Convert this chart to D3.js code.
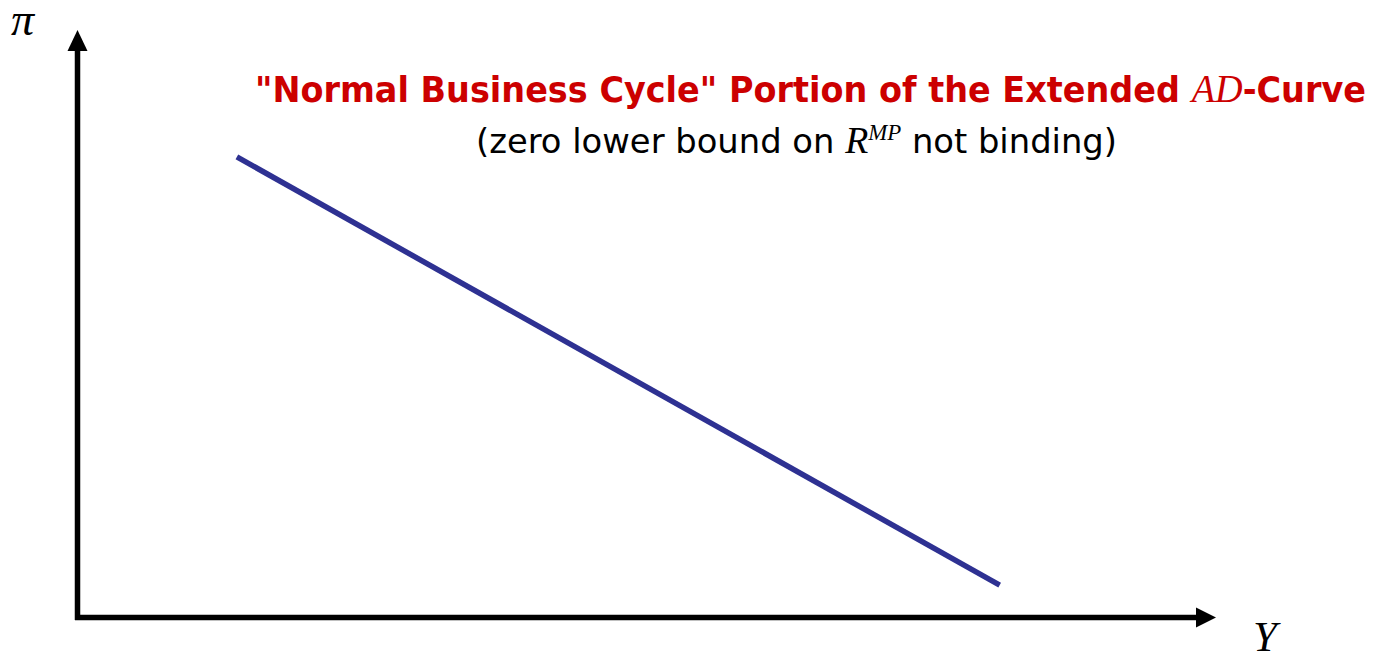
<!DOCTYPE html>
<html><head><meta charset="utf-8">
<script src="https://cdn.jsdelivr.net/npm/d3@7"></script>
<style>html,body{margin:0;padding:0;background:#fff;}svg{display:block;}</style>
</head><body>
<svg id="c" width="1376" height="659"></svg>
<script>
// Data (abstract units on 0-100 axes)
const curveY = [14, 81];      // output Y
const curvePi = [78.4, 5.5];  // inflation pi
const titleParts = ['"Normal Business Cycle" Portion of the Extended ', 'AD', '-Curve'];
const subtitleParts = ['(zero lower bound on ', 'R', 'MP', ' not binding)'];

const svg = d3.select('#c');
const x = d3.scaleLinear().domain([0, 100]).range([77.5, 1216]);
const y = d3.scaleLinear().domain([0, 100]).range([617.5, 30]);

// axes with arrowheads
const ax = svg.append('g');
ax.append('line').attr('x1', x(0)).attr('y1', y(0)+2.5).attr('x2', x(0)).attr('y2', y(100)+18)
  .attr('stroke', '#000').attr('stroke-width', 5.5);
ax.append('line').attr('x1', x(0)-2.5).attr('y1', y(0)).attr('x2', x(100)-18).attr('y2', y(0))
  .attr('stroke', '#000').attr('stroke-width', 5.5);
ax.append('path').attr('d', `M${x(0)},${y(100)} L${x(0)-10},${y(100)+21} L${x(0)+10},${y(100)+21} Z`).attr('fill', '#000');
ax.append('path').attr('d', `M${x(100)},${y(0)} L${x(100)-20},${y(0)-10} L${x(100)-20},${y(0)+10} Z`).attr('fill', '#000');

// axis labels
svg.append('text').attr('x', 11).attr('y', 35).attr('font-family', 'Liberation Serif').attr('font-style', 'italic')
  .attr('font-size', 46).text('π');
svg.append('text').attr('x', 1253).attr('y', 651).attr('font-family', 'Liberation Serif').attr('font-style', 'italic')
  .attr('font-size', 43).text('Y');

// AD curve
const pts = curveY.map((v, i) => [x(v), y(curvePi[i])]);
svg.append('path').attr('d', d3.line()(pts)).attr('fill', 'none').attr('stroke', '#2E3192').attr('stroke-width', 5.5);

// title
const t = svg.append('text').attr('y', 102).attr('fill', '#CC0000').attr('font-size', 35);
t.append('tspan').attr('font-family', 'DejaVu Sans').attr('font-weight', 'bold').text(titleParts[0]);
t.append('tspan').attr('font-family', 'Liberation Serif').attr('font-style', 'italic').attr('font-size', 40).text(titleParts[1]);
t.append('tspan').attr('font-family', 'DejaVu Sans').attr('font-weight', 'bold').text(titleParts[2]);
t.attr('x', 255).attr('textLength', 1366 - 255).attr('lengthAdjust', 'spacingAndGlyphs');

const s = svg.append('text').attr('y', 153).attr('fill', '#000').attr('font-size', 34).attr('font-family', 'DejaVu Sans');
s.append('tspan').text(subtitleParts[0]);
s.append('tspan').attr('font-family', 'Liberation Serif').attr('font-style', 'italic').attr('font-size', 38).text(subtitleParts[1]);
s.append('tspan').attr('font-family', 'Liberation Serif').attr('font-style', 'italic').attr('font-size', 23).attr('dy', -13).text(subtitleParts[2]);
s.append('tspan').attr('dy', 13).text(subtitleParts[3]);
s.attr('x', 476).attr('textLength', 1117 - 476).attr('lengthAdjust', 'spacingAndGlyphs');
</script>
</body></html>
